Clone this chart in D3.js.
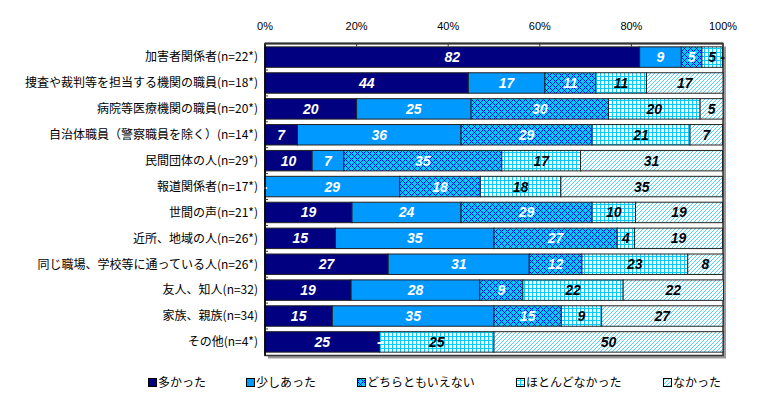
<!DOCTYPE html>
<html><head><meta charset="utf-8">
<script src="https://cdn.jsdelivr.net/npm/d3@7"></script>
<style>body{margin:0;background:#fff}svg{display:block}</style>
</head><body>
<svg id="c" width="762" height="416"></svg>
<script>
const categories = ["加害者関係者(n=22*)","捜査や裁判等を担当する機関の職員(n=18*)","病院等医療機関の職員(n=20*)","自治体職員（警察職員を除く）(n=14*)","民間団体の人(n=29*)","報道関係者(n=17*)","世間の声(n=21*)","近所、地域の人(n=26*)","同じ職場、学校等に通っている人(n=26*)","友人、知人(n=32)","家族、親族(n=34)","その他(n=4*)"];
const seriesNames = ["多かった","少しあった","どちらともいえない","ほとんどなかった","なかった"];
const ookatta   = [81.8, 44.4, 20, 7.1, 10.3, 0,    19.0, 15.4, 26.9, 18.8, 14.7, 25];
const sukoshi   = [9.1,  16.7, 25, 35.7, 6.9, 29.4, 23.8, 34.6, 30.8, 28.1, 35.3, 0];
const dochira   = [4.5,  11.1, 30, 28.6, 34.5, 17.6, 28.6, 26.9, 11.5, 9.4, 14.7, 0];
const hotondo   = [4.5,  11.1, 20, 21.4, 17.2, 17.6, 9.5, 3.8, 23.1, 21.9, 8.8, 25];
const nakatta   = [0,    16.7, 5,  7.1, 31.0, 35.3, 19.0, 19.2, 7.7, 21.9, 26.5, 50];
const tickValues = [0, 20, 40, 60, 80, 100];
const tickLabels = ["0%","20%","40%","60%","80%","100%"];

const seriesVals = [ookatta, sukoshi, dochira, hotondo, nakatta];
const rows = categories.map((c,i)=>{const o={cat:c}; seriesNames.forEach((s,j)=>o[s]=seriesVals[j][i]); return o;});
const stacked = d3.stack().keys(seriesNames)(rows);

const svg = d3.select("#c");
const defs = svg.append("defs");
function pixPattern(id, size, bg, fg, pix){
  const pt = defs.append("pattern").attr("id",id).attr("patternUnits","userSpaceOnUse").attr("width",size).attr("height",size);
  pt.append("rect").attr("width",size).attr("height",size).attr("fill",bg);
  pt.selectAll(null).data(pix).enter().append("rect")
    .attr("x",d=>d[0]).attr("y",d=>d[1]).attr("width",1).attr("height",1).attr("fill",fg).attr("shape-rendering","crispEdges");
}
const crossPix = d3.range(6).flatMap(i=>[[i,i],[i,(6-i)%6]]);
const gridPix = d3.range(4).flatMap(i=>[[i,0],[0,i]]);
const diagPix = d3.range(4).map(i=>[i,3-i]);
pixPattern("pCross",6,"#00CCFF","#0000FF",crossPix);
pixPattern("pGrid",4,"#FFFFFF","#00CCFF",gridPix);
pixPattern("pDiag",4,"#FFFFFF","#4FD2FF",diagPix);

const fills = ["#000080","#0099FF","url(#pCross)","url(#pGrid)","url(#pDiag)"];
const labelColors = ["#fff","#fff","#fff","#000","#000"];

const x = d3.scaleLinear().domain([0,100]).range([265,723]);
const y = d3.scaleBand().domain(categories).range([43.5,355.5]).paddingInner(0.21).paddingOuter(0.13);

svg.append("rect").attr("x",x(0)+3).attr("y",y.range()[0]+3).attr("width",x(100)-x(0)).attr("height",y.range()[1]-y.range()[0]).attr("fill","#9a9a9a");
svg.append("rect").attr("x",x(0)).attr("y",y.range()[0]).attr("width",x(100)-x(0)).attr("height",y.range()[1]-y.range()[0]).attr("fill","#fff").attr("stroke","#333").attr("stroke-width",1.5);

const g = svg.append("g");
stacked.forEach((s,j)=>{
  g.selectAll(null).data(s).enter().append("rect")
    .attr("x",d=>x(d[0])).attr("y",d=>y(d.data.cat))
    .attr("width",d=>x(d[1])-x(d[0])).attr("height",y.bandwidth())
    .attr("fill",fills[j]).attr("stroke",d=>d[1]-d[0]>0?"#222":"none").attr("stroke-width",1);
});
stacked.forEach((s,j)=>{
  g.selectAll(null).data(s).enter().append("text")
    .attr("x",d=>(x(d[0])+x(d[1]))/2).attr("y",d=>y(d.data.cat)+y.bandwidth()/2)
    .attr("dy","0.36em").attr("text-anchor","middle")
    .attr("font-family","'Liberation Sans',Arial,sans-serif").attr("font-size",14)
    .attr("font-weight","bold").attr("font-style","italic")
    .attr("fill",labelColors[j])
    .text(d=>{const v=d[1]-d[0]; return v>0?String(Math.round(v)):"-";});
});

svg.append("line").attr("x1",x(0)).attr("x2",x(0)).attr("y1",y.range()[0]).attr("y2",y.range()[1]).attr("stroke","#000").attr("stroke-width",1.5);
categories.slice(1).forEach(c=>{
  const yy = y(c) - y.step()*y.paddingInner()/2;
  svg.append("line").attr("x1",x(0)).attr("x2",x(0)+3).attr("y1",yy).attr("y2",yy).attr("stroke","#333");
});
const topAxis = svg.append("g").attr("transform",`translate(0,${y.range()[0]})`);
topAxis.append("line").attr("x1",x(0)).attr("x2",x(100)).attr("stroke","#333").attr("stroke-width",2);
tickValues.forEach((t,i)=>{
  topAxis.append("line").attr("x1",x(t)).attr("x2",x(t)).attr("y1",0).attr("y2",3).attr("stroke","#333");
  topAxis.append("text").attr("x",x(t)).attr("y",-14).attr("text-anchor","middle")
    .attr("font-family","'Liberation Sans',Arial,sans-serif").attr("font-size",11).attr("fill","#000").text(tickLabels[i]);
});
svg.selectAll(null).data(categories).enter().append("text")
  .attr("x",258).attr("y",d=>y(d)+y.bandwidth()/2).attr("dy","0.36em").attr("text-anchor","end")
  .attr("font-family","'Noto Sans CJK JP',sans-serif").attr("font-size",12).attr("fill","#000").text(d=>d);

const legX = [148, 246, 357, 516, 663];
seriesNames.forEach((s,j)=>{
  svg.append("rect").attr("x",legX[j]+0.5).attr("y",378.5).attr("width",8).attr("height",8).attr("fill",fills[j]).attr("stroke","#000").attr("stroke-width",1);
  svg.append("text").attr("x",legX[j]+10).attr("y",383).attr("dy","0.36em")
    .attr("font-family","'Noto Sans CJK JP',sans-serif").attr("font-size",12).attr("fill","#000").text(s);
});
</script>
</body></html>
